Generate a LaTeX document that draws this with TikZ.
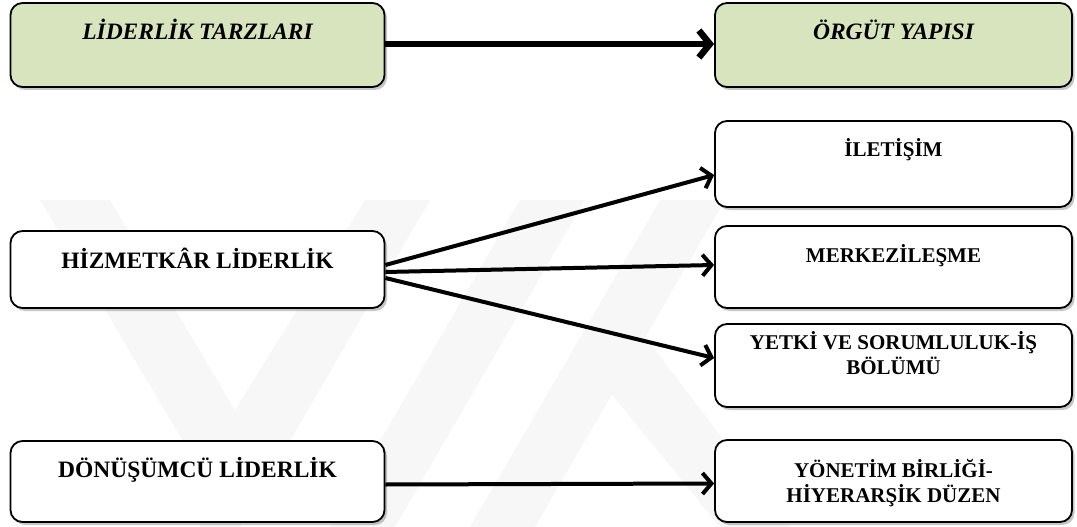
\documentclass[tikz,border=0pt]{standalone}
\usepackage{fontspec}
\setmainfont{Liberation Serif}
\usetikzlibrary{arrows.meta,shadows}
\definecolor{hdrgreen}{RGB}{215,228,189}
\definecolor{wm}{RGB}{247,247,247}
\tikzset{
  box/.style={draw=black, line width=1.8pt, rounded corners=12pt, fill=white, inner sep=0pt,
    drop shadow={shadow xshift=2.5pt, shadow yshift=-3pt, opacity=0.45}},
  hdr/.style={box, fill=hdrgreen},
  wide/.style={minimum width=374pt},
  narrow/.style={minimum width=357pt},
  hdrtext/.style={anchor=base, font=\fontsize{23.5}{27}\selectfont\bfseries\itshape},
  lefttext/.style={anchor=base, font=\fontsize{23.5}{27}\selectfont\bfseries},
  righttext/.style={anchor=base, align=center, font=\fontsize{21}{24.5}\selectfont\bfseries},
  bigarr/.style={line width=6.5pt, -{Straight Barb[length=11pt,width=27pt]}},
  arr/.style={line width=4pt, -{Straight Barb[length=9pt,width=21pt]}},
  wmband/.style={fill=wm, draw=none}
}
\begin{document}
\begin{tikzpicture}[x=1pt,y=-1pt]
\useasboundingbox (0,0) rectangle (1077,527);
% faint watermark
\fill[wmband] (40,200) -- (110,200) -- (235,410) -- (200,470) -- cycle;
\fill[wmband] (200,470) -- (235,410) -- (365,200) -- (430,200) -- (240,527) -- (200,527) -- cycle;
\fill[wmband] (330,527) -- (520,200) -- (585,200) -- (395,527) -- cycle;
\fill[wmband] (470,527) -- (660,200) -- (725,200) -- (535,527) -- cycle;
\fill[wmband] (600,380) -- (640,330) -- (790,527) -- (720,527) -- cycle;
% boxes
\node[hdr, wide, minimum height=84pt] (lt) at (197.5,45) {};
\node[hdr, narrow, minimum height=84pt] (og) at (893.5,45) {};
\node[box, narrow, minimum height=86pt] (ile) at (893.5,164) {};
\node[box, narrow, minimum height=82pt] (mer) at (893.5,267) {};
\node[box, narrow, minimum height=83pt] (yet) at (893.5,365.5) {};
\node[box, narrow, minimum height=82pt] (yon) at (893.5,481) {};
\node[box, wide, minimum height=77pt] (hiz) at (197.5,269.5) {};
\node[box, wide, minimum height=81pt] (don) at (197.5,481.5) {};
% texts
\node[hdrtext] (tlt) at (197.5,40) {LİDERLİK TARZLARI};
\node[hdrtext] (tog) at (893.5,40) {ÖRGÜT YAPISI};
\node[lefttext] (thiz) at (197.5,268) {HİZMETKÂR LİDERLİK};
\node[lefttext] (tdon) at (197.5,477) {DÖNÜŞÜMCÜ LİDERLİK};
\node[righttext] (tile) at (893.5,156) {İLETİŞİM};
\node[righttext] (tmer) at (893.5,262) {MERKEZİLEŞME};
\node[righttext] (tyet) at (893.5,374) {YETKİ VE SORUMLULUK-İŞ\\BÖLÜMÜ};
\node[righttext] (tyon) at (893.5,502) {YÖNETİM BİRLİĞİ-\\HİYERARŞİK DÜZEN};
% connectors
\draw[bigarr] ([yshift=1pt]lt.east) -- ([yshift=1pt]og.west);
\draw[arr] ([yshift=4.5pt]hiz.east) -- ([yshift=-11pt]ile.west);
\draw[arr] ([yshift=-2.5pt]hiz.east) -- ([yshift=2pt]mer.west);
\draw[arr] ([yshift=-8.5pt]hiz.east) -- ([yshift=7.5pt]yet.west);
\draw[arr] ([yshift=-3pt]don.east) -- ([yshift=-2.5pt]yon.west);
\end{tikzpicture}
\end{document}
